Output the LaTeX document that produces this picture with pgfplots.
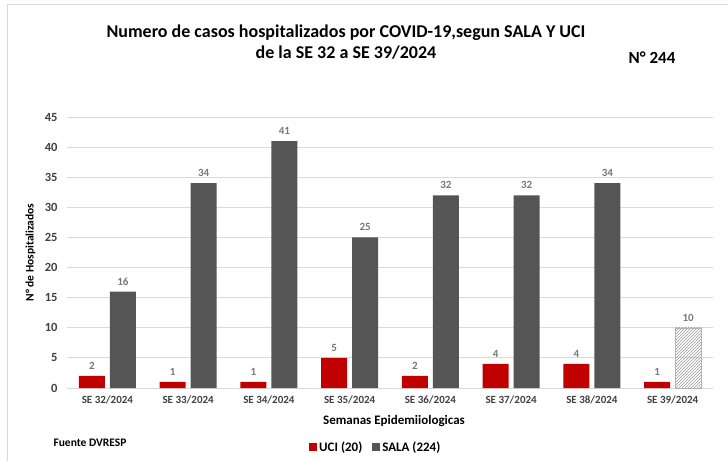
\documentclass[border=0pt]{standalone}
\usepackage{pgfplots}
\pgfplotsset{compat=1.18}
\usetikzlibrary{patterns}
\usepackage{fontspec}
\setmainfont{Carlito}
\definecolor{uci}{HTML}{C00000}
\definecolor{sala}{HTML}{555555}
\definecolor{txt}{HTML}{404040}
\definecolor{grd}{HTML}{D9D9D9}
\begin{document}
\begin{tikzpicture}[x=1pt,y=1pt]
\path[use as bounding box] (0,0) rectangle (728,461);
\draw[grd,line width=1pt] (7,0) -- (7,456) -- (728,456);
\begin{axis}[
  at={(67pt,73pt)}, anchor=south west,
  scale only axis, width=646pt, height=271pt,
  xmin=-0.5, xmax=7.5, ymin=0, ymax=45,
  ytick={0,5,...,45},
  xtick={0,...,7},
  xticklabels={SE 32/2024,SE 33/2024,SE 34/2024,SE 35/2024,SE 36/2024,SE 37/2024,SE 38/2024,SE 39/2024},
  ymajorgrids, grid style={grd,line width=0.8pt},
  axis x line*=bottom, axis y line*=left,
  x axis line style={grd,line width=0.8pt,-},
  y axis line style={draw=none},
  tick style={draw=none},
  /pgf/number format/assume math mode=true,
  ticklabel style={font=\fontsize{11}{13}\selectfont\bfseries, text=txt},
  yticklabel style={xshift=-6pt, font=\fontsize{12.5}{14}\selectfont\bfseries},
  ylabel={N° de Hospitalizados},
  ylabel style={font=\fontsize{11.5}{13}\selectfont\bfseries, text=black, at={(rel axis cs:0,0.5)}, anchor=south, yshift=28pt},
  xlabel={Semanas Epidemiiologicas},
  xlabel style={font=\fontsize{13}{15}\selectfont\bfseries, text=black, at={(rel axis cs:0.5,0)}, anchor=north, yshift=-24pt, xshift=4pt},
  bar width=26pt,
  ybar,
  nodes near coords,
  every node near coord/.append style={font=\fontsize{11}{13}\selectfont\bfseries, text=sala!80, yshift=3pt},
  legend style={at={(0.478,-0.218)}, anchor=center, draw=none, legend columns=2, font=\fontsize{13}{15}\selectfont\bfseries, /tikz/every even column/.append style={column sep=8pt}},
  legend image code/.code={\fill[#1] (0pt,-4pt) rectangle (8pt,4pt);},
]
\addplot[fill=uci, draw=none, bar shift=-15.5pt] coordinates {(0,2) (1,1) (2,1) (3,5) (4,2) (5,4) (6,4) (7,1)};
\addlegendentry{UCI (20)}
\addplot[fill=sala, draw=none, bar shift=15.5pt] coordinates {(0,16) (1,34) (2,41) (3,25) (4,32) (5,32) (6,34)};
\addlegendentry{SALA (224)}
\addplot[pattern=north east lines, pattern color=gray!80, draw=gray!60, bar shift=15.5pt, forget plot] coordinates {(7,10)};
\end{axis}
\node[font=\fontsize{18}{21}\selectfont\bfseries, align=center] at (346,419) {Numero de casos hospitalizados por COVID-19,segun SALA Y UCI\\de la SE 32 a SE 39/2024};
\node[font=\fontsize{17}{20}\selectfont\bfseries] at (652,403) {N° 244};
\node[font=\fontsize{11.5}{13}\selectfont\bfseries, anchor=west] at (50,18) {Fuente DVRESP};
\end{tikzpicture}
\end{document}
